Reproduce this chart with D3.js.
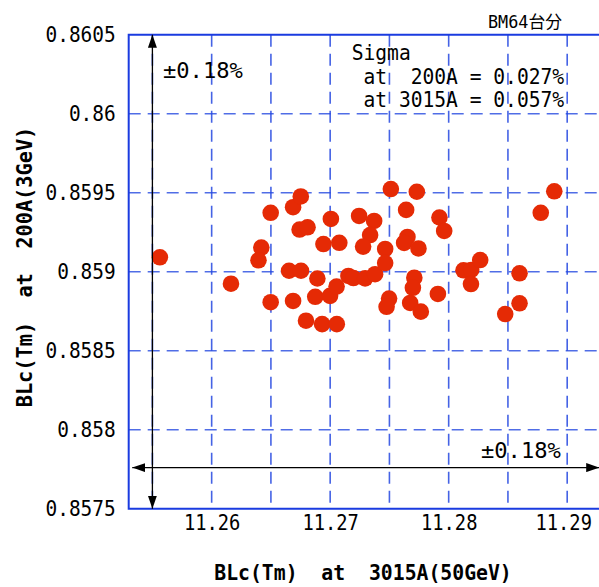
<!DOCTYPE html>
<html>
<head>
<meta charset="utf-8">
<script src="https://cdn.jsdelivr.net/npm/d3@7/dist/d3.min.js"></script>
<style>
  body { margin: 0; background: #fff; }
  text { font-family: "DejaVu Sans Mono", "Noto Sans CJK JP", monospace; white-space: pre; fill: #000; }
</style>
</head>
<body>
<div id="canvas"></div>
<script>
// BLc at 3015A (x) vs BLc at 200A (y), one point per magnet
const blcHigh = [11.25563, 11.26163, 11.26419, 11.26395, 11.26498, 11.26498, 11.26653, 11.26754,
  11.26687, 11.26687, 11.26752, 11.26742, 11.26809, 11.27006, 11.26943, 11.27077, 11.26892,
  11.26874, 11.26999, 11.27054, 11.26796, 11.26932, 11.27056, 11.27154, 11.27196, 11.27295,
  11.27379, 11.27464, 11.27464, 11.27244, 11.27371, 11.27337, 11.27278, 11.27512, 11.27731,
  11.27641, 11.27652, 11.27624, 11.27745, 11.27922, 11.27962, 11.27710, 11.27698, 11.27909,
  11.27497, 11.27476, 11.27675, 11.27765, 11.28125, 11.28190, 11.28266, 11.28188, 11.28598,
  11.28598, 11.28477, 11.28777, 11.28891];
const blcLow = [0.859091, 0.858924, 0.859153, 0.859072, 0.859373, 0.858807, 0.859006, 0.859006,
  0.858815, 0.859408, 0.859476, 0.859267, 0.859281, 0.859334, 0.859175, 0.859183, 0.858957,
  0.858841, 0.858847, 0.858906, 0.858690, 0.858668, 0.858668, 0.858973, 0.858960, 0.858958,
  0.858984, 0.859144, 0.859055, 0.859353, 0.859321, 0.859232, 0.859159, 0.859523, 0.859506,
  0.859391, 0.859220, 0.859182, 0.859147, 0.859343, 0.859258, 0.858962, 0.858898, 0.858859,
  0.858830, 0.858778, 0.858802, 0.858747, 0.859009, 0.859011, 0.859074, 0.858922, 0.858990,
  0.858800, 0.858732, 0.859373, 0.859509];

const xTicks = [11.26, 11.27, 11.28, 11.29];
const xTickLabels = ["11.26", "11.27", "11.28", "11.29"];
const yTicks = [0.8575, 0.858, 0.8585, 0.859, 0.8595, 0.86, 0.8605];
const yTickLabels = ["0.8575", "0.858", "0.8585", "0.859", "0.8595", "0.86", "0.8605"];
const xGrid = [11.255, 11.26, 11.265, 11.27, 11.275, 11.28, 11.285, 11.29, 11.295];
const yGrid = [0.858, 0.8585, 0.859, 0.8595, 0.86];
const sigmaLines = ["Sigma", " at  200A = 0.027%", " at 3015A = 0.057%"];
const rangeLabel = "±0.18%";

const w = 599;
const h = 587;

const x = d3.scaleLinear().domain([11.253, 11.296]).range([128.7, 638.3]);
const y = d3.scaleLinear().domain([0.8575, 0.8605]).range([508.7, 34.7]);

// squeeze monospace text to the narrow look of the original font
function squeeze(sel, cw) {
  sel.attr("textLength", function(){ return this.textContent.length * cw; })
     .attr("lengthAdjust", "spacingAndGlyphs");
}

const svg = d3.select("#canvas")
  .append("svg")
  .attr("width", w)
  .attr("height", h);

svg.append("defs").append("marker")
  .attr("id", "head")
  .attr("viewBox", "0 0 13 9")
  .attr("refX", 13)
  .attr("refY", 4.5)
  .attr("markerUnits", "userSpaceOnUse")
  .attr("markerWidth", 13)
  .attr("markerHeight", 9)
  .attr("orient", "auto-start-reverse")
  .append("path")
  .attr("d", "M0,0L13,4.5L0,9Z")
  .attr("fill", "#000");

const x0 = x.range()[0], x1 = x.range()[1];
const yTop = y(0.8605), yBot = y(0.8575);

// dashed grid
svg.append("g").selectAll("line")
  .data(xGrid)
  .enter().append("line")
  .attr("x1", d => x(d)).attr("x2", d => x(d))
  .attr("y1", yTop).attr("y2", yBot)
  .attr("stroke", "#2448e0")
  .attr("stroke-width", 1.6)
  .attr("stroke-opacity", 0.85)
  .attr("stroke-dasharray", "12,7");

svg.append("g").selectAll("line")
  .data(yGrid)
  .enter().append("line")
  .attr("x1", x0).attr("x2", x1)
  .attr("y1", d => y(d)).attr("y2", d => y(d))
  .attr("stroke", "#2448e0")
  .attr("stroke-width", 1.6)
  .attr("stroke-opacity", 0.8)
  .attr("stroke-dasharray", "12,7");

// plot frame
svg.append("path")
  .attr("d", `M${x1},${yTop}H${x0}V${yBot}H${x1}`)
  .attr("fill", "none")
  .attr("stroke", "#1a3be0")
  .attr("stroke-width", 2);

// axes (labels only)
const yAxis = d3.axisLeft(y)
  .tickValues(yTicks)
  .tickFormat((d, i) => yTickLabels[i])
  .tickSize(0)
  .tickPadding(13);
const gy = svg.append("g").attr("transform", `translate(${x0},0)`).call(yAxis);
gy.select(".domain").remove();
gy.attr("font-family", null).attr("font-size", null);
gy.selectAll("text").style("font-size", "21px").attr("dy", "0.3em").call(squeeze, 11.7);

const xAxis = d3.axisBottom(x)
  .tickValues(xTicks)
  .tickFormat((d, i) => xTickLabels[i])
  .tickSize(0)
  .tickPadding(6);
const gx = svg.append("g").attr("transform", `translate(0,${yBot})`).call(xAxis);
gx.select(".domain").remove();
gx.attr("font-family", null).attr("font-size", null);
gx.selectAll("text").style("font-size", "21px").call(squeeze, 11.3);
// last label sits on the window edge, pull it in a touch
gx.selectAll("text").filter((d, i) => i == xTicks.length - 1).attr("dx", -4);

// points
svg.append("g").selectAll("circle")
  .data(blcHigh.map((v, i) => [v, blcLow[i]]))
  .enter().append("circle")
  .attr("cx", d => x(d[0]))
  .attr("cy", d => y(d[1]))
  .attr("r", 8.3)
  .attr("fill", "#e52a05");

// +-0.18% arrows
svg.append("line")
  .attr("x1", x(11.255)).attr("x2", x(11.255))
  .attr("y1", yBot).attr("y2", yTop)
  .attr("stroke", "#000").attr("stroke-width", 1.3)
  .attr("marker-start", "url(#head)")
  .attr("marker-end", "url(#head)");

svg.append("line")
  .attr("x1", x(11.2533)).attr("x2", x(11.2927))
  .attr("y1", y(0.85776)).attr("y2", y(0.85776))
  .attr("stroke", "#000").attr("stroke-width", 1.3)
  .attr("marker-start", "url(#head)")
  .attr("marker-end", "url(#head)");

svg.append("text")
  .attr("x", 163).attr("y", 78)
  .style("font-size", "21px")
  .text(rangeLabel)
  .call(squeeze, 13.3);

svg.append("text")
  .attr("x", 481).attr("y", 458)
  .style("font-size", "21px")
  .text(rangeLabel)
  .call(squeeze, 13.3);

// sigma box
svg.append("text")
  .attr("x", 351.7).attr("y", 60)
  .style("font-size", "21px")
  .selectAll("tspan")
  .data(sigmaLines)
  .enter().append("tspan")
  .attr("x", 351.7)
  .attr("dy", (d, i) => i == 0 ? 0 : 23.5)
  .text(d => d)
  .call(squeeze, 11.8);

svg.append("text")
  .attr("x", 488).attr("y", 28)
  .style("font-size", "17px")
  .attr("textLength", 74)
  .attr("lengthAdjust", "spacingAndGlyphs")
  .text("BM64台分");

// axis titles
svg.append("text")
  .attr("x", 363).attr("y", 580)
  .attr("text-anchor", "middle")
  .style("font-size", "21px")
  .style("font-weight", "bold")
  .text("BLc(Tm)  at  3015A(50GeV)")
  .call(squeeze, 11.9);

svg.append("text")
  .attr("transform", "translate(32,267) rotate(-90)")
  .attr("text-anchor", "middle")
  .style("font-size", "21px")
  .style("font-weight", "bold")
  .text("BLc(Tm)  at  200A(3GeV)")
  .call(squeeze, 12.2);
</script>
</body>
</html>
